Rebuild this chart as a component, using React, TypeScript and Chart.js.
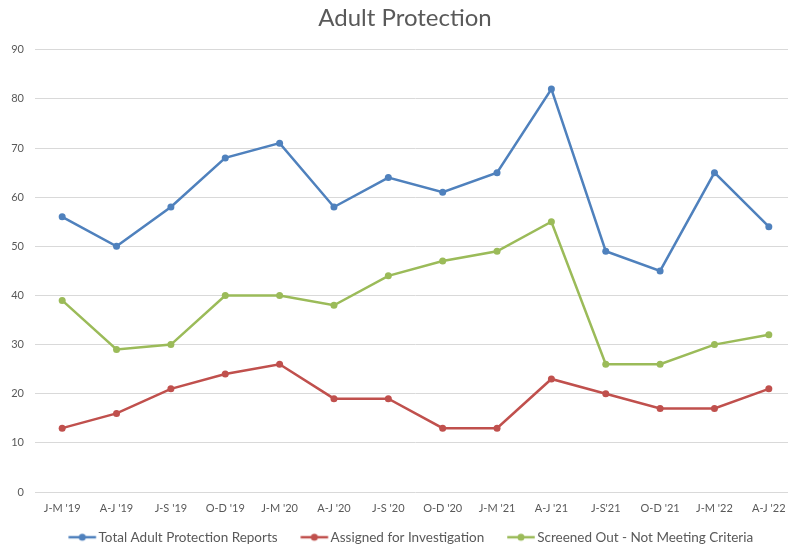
import React, { useEffect, useRef } from "react";
import { Chart, registerables } from "chart.js";

Chart.register(...registerables);

const categories = ["J-M '19", "A-J '19", "J-S '19", "O-D '19", "J-M '20", "A-J '20", "J-S '20", "O-D '20", "J-M '21", "A-J '21", "J-S'21", "O-D '21", "J-M '22", "A-J '22"];
const totalReports = [56, 50, 58, 68, 71, 58, 64, 61, 65, 82, 49, 45, 65, 54];
const assigned = [13, 16, 21, 24, 26, 19, 19, 13, 13, 23, 20, 17, 17, 21];
const screenedOut = [39, 29, 30, 40, 40, 38, 44, 47, 49, 55, 26, 26, 30, 32];
const seriesNames = ["Total Adult Protection Reports", "Assigned for Investigation", "Screened Out - Not Meeting Criteria"];
const seriesColors = ["#4F81BD", "#C0504D", "#9BBB59"];
const yTicks = { min: 0, max: 90, step: 10 };

const FONT = "Lato, 'Open Sans', sans-serif";
const TEXT = "#595959";

function legendIcon(color: string): HTMLCanvasElement {
  const c = document.createElement("canvas");
  c.width = 64;
  c.height = 10;
  const ctx = c.getContext("2d")!;
  ctx.strokeStyle = color;
  ctx.lineWidth = 2.5;
  ctx.beginPath();
  ctx.moveTo(26.25, 5);
  ctx.lineTo(53.75, 5);
  ctx.stroke();
  ctx.fillStyle = color;
  ctx.beginPath();
  ctx.arc(40, 5, 3.5, 0, Math.PI * 2);
  ctx.fill();
  return c;
}

export default function App() {
  const ref = useRef<HTMLCanvasElement>(null);
  useEffect(() => {
    const icons = seriesColors.map(legendIcon);
    const values = [totalReports, assigned, screenedOut];
    const chart = new Chart(ref.current!, {
      type: "line",
      data: {
        labels: categories,
        datasets: values.map((v, i) => ({
          label: seriesNames[i],
          data: v,
          borderColor: seriesColors[i],
          backgroundColor: seriesColors[i],
          borderWidth: 2.5,
          pointRadius: 3.5,
          pointBorderWidth: 0,
          pointBackgroundColor: seriesColors[i],
          tension: 0,
        })),
      },
      options: {
        animation: false,
        responsive: false,
        maintainAspectRatio: false,
        layout: { padding: 0 },
        plugins: {
          title: {
            display: true,
            text: "Adult Protection",
            color: TEXT,
            font: { family: FONT, size: 24, weight: "normal" },
            padding: { top: 4, bottom: 17 },
          },
          legend: {
            position: "bottom",
            labels: {
              color: TEXT,
              font: { family: FONT, size: 13.5 },
              usePointStyle: true,
              pointStyleWidth: 35,
              padding: 11.25,
              generateLabels: (ch: any) => {
                const items = Chart.defaults.plugins.legend.labels.generateLabels(ch);
                return items.map((it: any, i: number) => ({ ...it, pointStyle: icons[i] }));
              },
            },
          },
          tooltip: { enabled: false },
        },
        scales: {
          x: {
            offset: true,
            grid: { display: false, drawTicks: false },
            border: { display: false },
            ticks: { color: TEXT, font: { family: FONT, size: 11 }, padding: 10, maxRotation: 0, autoSkip: false },
            afterFit: (s: any) => { s.height = 27.25; },
          },
          y: {
            min: yTicks.min,
            max: yTicks.max,
            grid: { color: "#D9D9D9", lineWidth: 1, drawTicks: false },
            border: { display: false },
            ticks: { stepSize: yTicks.step, color: TEXT, font: { family: FONT, size: 11 }, padding: 11 },
            afterFit: (s: any) => { s.width = 35; },
          },
          y2: {
            position: "right",
            grid: { display: false, drawTicks: false },
            border: { display: false },
            ticks: { display: false },
            afterFit: (s: any) => { s.width = 14; },
          },
        },
      },
    });
    return () => chart.destroy();
  }, []);
  return (
    <div style={{ position: "fixed", left: 0, top: 0, width: 788, height: 546, overflow: "hidden", background: "#fff" }}>
      <canvas ref={ref} width={810} height={554} style={{ width: 810, height: 554, display: "block" }} />
    </div>
  );
}
